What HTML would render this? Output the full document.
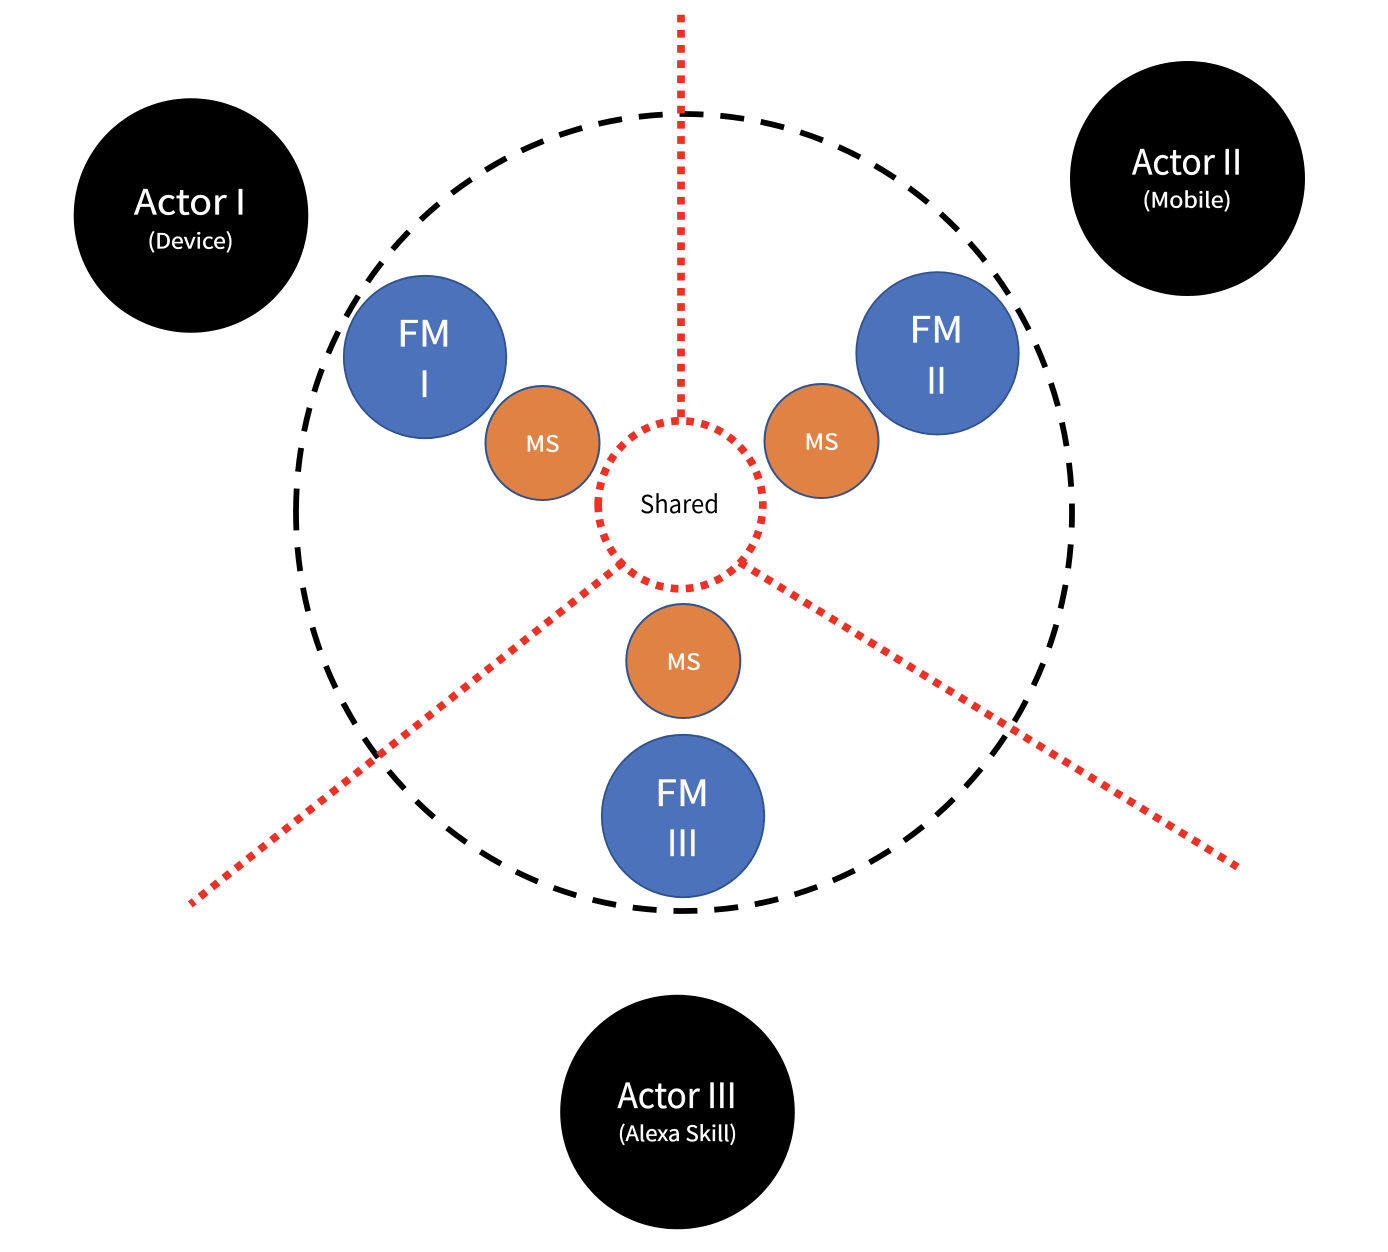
<!DOCTYPE html>
<html>
<head>
<meta charset="utf-8">
<style>
html,body{margin:0;padding:0;background:#fff;}
svg{display:block;}
text{font-family:"Noto Sans CJK JP","Liberation Sans",sans-serif;text-anchor:middle;}
</style>
</head>
<body>
<svg width="1388" height="1252" viewBox="0 0 1388 1252" xmlns="http://www.w3.org/2000/svg">
<rect width="1388" height="1252" fill="#fff"/>
<path d="M296 512.5 A388 398.5 0 0 1 1072 512.5 A388 398.5 0 0 1 296 512.5 Z" fill="none" stroke="#000" stroke-width="5.8" stroke-dasharray="24 16.88"/>
<circle cx="191" cy="215.500" r="117.300" fill="#000"/>
<circle cx="1187.500" cy="178.500" r="117.500" fill="#000"/>
<circle cx="677.500" cy="1112" r="117.300" fill="#000"/>
<g stroke="#ee3124" stroke-width="7.7" stroke-dasharray="7.7 7.48" fill="none">
<line x1="681" y1="14.700" x2="681" y2="418"/>
<line x1="623" y1="562.600" x2="190.300" y2="904.400"/>
<line x1="739.500" y1="562.200" x2="1237.500" y2="867"/>
<path d="M598.200 504.800 A82.300 84 0 0 1 762.800 504.800 A82.300 84 0 0 1 598.200 504.800 Z" stroke-dasharray="7.7 7.44"/>
</g>
<g fill="#4d72bc" stroke="#2f528f" stroke-width="1.800">
<circle cx="425" cy="357" r="81.200"/>
<circle cx="937.500" cy="353.300" r="81.200"/>
<circle cx="683" cy="816" r="81.200"/>
</g>
<g fill="#e08244" stroke="#2f528f" stroke-width="2">
<circle cx="542.500" cy="443" r="57"/>
<circle cx="821.500" cy="441" r="57"/>
<circle cx="683.300" cy="661" r="57"/>
</g>
<g fill="#fff" stroke="#fff" stroke-width="0.35">
<text x="190" y="214.500" font-size="35" textLength="112" lengthAdjust="spacingAndGlyphs">Actor I</text>
<text x="190.500" y="248.300" font-size="21" textLength="86" lengthAdjust="spacingAndGlyphs">(Device)</text>
<text x="1187" y="174.500" font-size="35" textLength="110" lengthAdjust="spacingAndGlyphs">Actor II</text>
<text x="1187" y="207.300" font-size="21" textLength="89" lengthAdjust="spacingAndGlyphs">(Mobile)</text>
<text x="677" y="1108" font-size="35" textLength="119" lengthAdjust="spacingAndGlyphs">Actor III</text>
<text x="677.500" y="1141" font-size="21" textLength="119" lengthAdjust="spacingAndGlyphs">(Alexa Skill)</text>
<text x="424" y="346.700" font-size="36" textLength="54" lengthAdjust="spacingAndGlyphs">FM</text>
<text x="424.500" y="397" font-size="36">I</text>
<text x="936.300" y="342.700" font-size="36" textLength="54" lengthAdjust="spacingAndGlyphs">FM</text>
<text x="936.500" y="393.300" font-size="36" textLength="20" lengthAdjust="spacingAndGlyphs">II</text>
<text x="682" y="806" font-size="36" textLength="54" lengthAdjust="spacingAndGlyphs">FM</text>
<text x="682.500" y="856" font-size="36" textLength="31" lengthAdjust="spacingAndGlyphs">III</text>
<text x="542.500" y="451.300" font-size="22" textLength="34" lengthAdjust="spacingAndGlyphs">MS</text>
<text x="821.500" y="449.300" font-size="22" textLength="34" lengthAdjust="spacingAndGlyphs">MS</text>
<text x="683.700" y="669.300" font-size="22" textLength="34" lengthAdjust="spacingAndGlyphs">MS</text>
</g>
<text x="679.500" y="513" font-size="24.500" fill="#000" textLength="79" lengthAdjust="spacingAndGlyphs">Shared</text>
</svg>
</body>
</html>
